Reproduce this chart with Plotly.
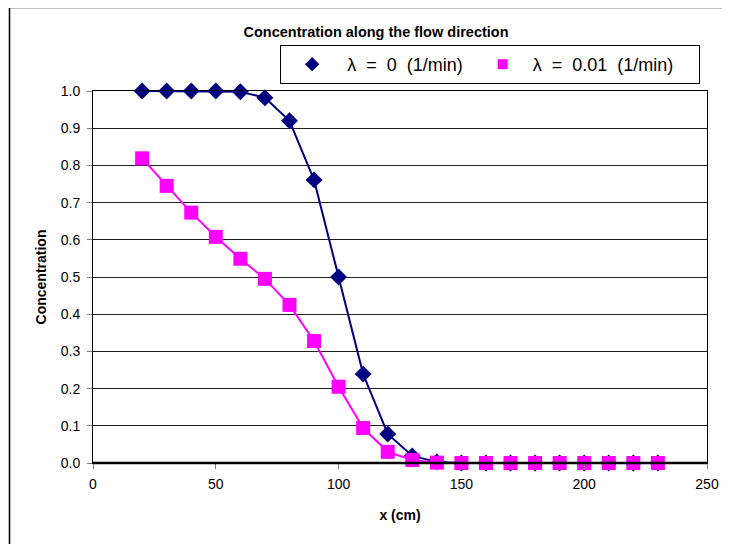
import plotly.graph_objects as go

x_cm = [20, 30, 40, 50, 60, 70, 80, 90, 100, 110, 120, 130, 140, 150, 160,
        170, 180, 190, 200, 210, 220, 230]
conc_lambda0 = [1.0, 1.0, 1.0, 1.0, 0.998, 0.982, 0.92, 0.761, 0.5, 0.239, 0.078,
                0.019, 0.003, 0.0, 0.0, 0.0, 0.0, 0.0, 0.0, 0.0, 0.0, 0.0]
conc_lambda001 = [0.819, 0.745, 0.673, 0.608, 0.549, 0.495, 0.425, 0.328, 0.205,
                  0.094, 0.03, 0.008, 0.001, 0.0, 0.0, 0.0, 0.0, 0.0, 0.0, 0.0, 0.0, 0.0]
x_ticks = [0, 50, 100, 150, 200, 250]
y_ticks = [0.0, 0.1, 0.2, 0.3, 0.4, 0.5, 0.6, 0.7, 0.8, 0.9, 1.0]
names = ["λ = 0 (1/min)", "λ = 0.01 (1/min)"]
colors = ["#000080", "#FF00FF"]

FONT = "Liberation Sans, Arial, sans-serif"
NB = "\u00a0"

# page body has an 8px margin: target pixel coords are page coords
OX, OY = 8, 8
W, H = 730 - OX, 544 - OY
L, T = 93 - OX, 91 - OY
pw, ph = 707 - 93, 463 - 91
R, B = W - L - pw, H - T - ph


def px(xp):
    return (xp - 93) / pw


def py(yp):
    return (463 - yp) / ph


fig = go.Figure()
fig.add_trace(go.Scatter(
    x=x_cm, y=conc_lambda0, mode="lines+markers", name=names[0], showlegend=False,
    line=dict(color=colors[0], width=2),
    marker=dict(symbol="diamond", size=13, color=colors[0]),
    cliponaxis=False,
))
fig.add_trace(go.Scatter(
    x=x_cm, y=conc_lambda001, mode="lines+markers", name=names[1], showlegend=False,
    line=dict(color=colors[1], width=2),
    marker=dict(symbol="square", size=14, color=colors[1]),
    cliponaxis=False,
))
# legend entries (markers only, as in the reference)
fig.add_trace(go.Scatter(
    x=[None], y=[None], mode="markers",
    name=NB * 3 + names[0].replace(" ", NB * 2) + NB * 3,
    marker=dict(symbol="diamond", size=11, color=colors[0]),
))
fig.add_trace(go.Scatter(
    x=[None], y=[None], mode="markers",
    name=NB * 2 + names[1].replace(" ", NB * 2) + NB * 4,
    marker=dict(symbol="square", size=10, color=colors[1]),
))

fig.update_layout(
    width=W, height=H,
    margin=dict(l=L, r=R, t=T, b=B, autoexpand=False),
    paper_bgcolor="white", plot_bgcolor="white",
    font=dict(family=FONT, size=14, color="black"),
    title=dict(text="<b>Concentration along the flow direction</b>",
               x=(376 - OX) / W, xanchor="center", y=1 - (32 - OY) / H, yanchor="middle",
               font=dict(size=14.5, family=FONT, color="black")),
    showlegend=True,
    legend=dict(orientation="h", x=px(280), xanchor="left",
                y=py(45), yanchor="top",
                bordercolor="black", borderwidth=1, bgcolor="white",
                font=dict(size=18, family=FONT, color="black"),
                title=dict(text=NB, side="left", font=dict(size=4)),
                itemwidth=30),
    xaxis=dict(range=[0, 250], tickvals=x_ticks, ticks="outside", ticklen=5,
               tickcolor="#808080", showgrid=False, zeroline=False,
               showline=True, linecolor="black", linewidth=1, mirror=True,
               ticklabelstandoff=3,
               title=dict(text="<b>x (cm)</b>", font=dict(size=14), standoff=19),
               tickfont=dict(size=14)),
    yaxis=dict(range=[0, 1.0], tickvals=y_ticks, tickformat=".1f",
               ticks="outside", ticklen=5, tickcolor="#808080",
               showgrid=True, gridcolor="#202020", gridwidth=1, zeroline=False,
               showline=True, linecolor="black", linewidth=1, mirror=True,
               ticklabelstandoff=4,
               title=dict(text="<b>Concentration</b>", font=dict(size=14), standoff=10),
               tickfont=dict(size=14)),
    shapes=[
        dict(type="rect", xref="paper", yref="paper",
             x0=px(9.5), x1=px(745), y0=py(560), y1=py(7.5),
             line=dict(color="black", width=1.5), layer="below"),
        dict(type="line", xref="paper", yref="paper",
             x0=0, x1=1, y0=0, y1=0, line=dict(color="black", width=2.5)),
    ],
)

fig.write_html("out.html")
